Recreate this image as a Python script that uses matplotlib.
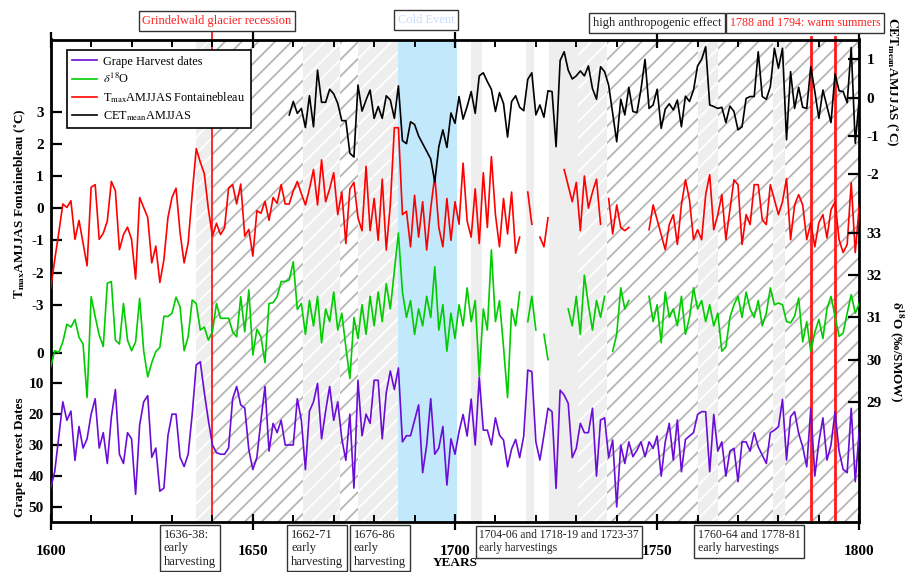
import numpy as np
import matplotlib
matplotlib.use("Agg")
import matplotlib.pyplot as plt
from matplotlib.lines import Line2D

plt.rcParams['font.family'] = ['Liberation Serif', 'DejaVu Serif']
plt.rcParams['mathtext.fontset'] = 'stix'
plt.rcParams['hatch.linewidth'] = 1.3
plt.rcParams['axes.unicode_minus'] = False

nan = np.nan
years = np.arange(1600, 1801)

# Grape harvest dates (days after 1 Sept), 1600-1800
grape = [44, 38.6, 27.3, 16, 22, 19, 35, 24, 31, 28,
         20, 15, 31, 26, 36, 21, 12, 33, 36, 26,
         28, 46, 23.5, 16, 14, 34, 31, 45, 44, 27,
         20, 20, 34, 37, 33, 20, 4, 3, 13, 22,
         30, 32.5, 33, 33, 31, 15, 11, 17, 18, 31.5,
         38, 34, 22, 11, 32, 23, 26, 22, 30, 30,
         30, 15, 22, 38, 19, 16, 10, 28, 19, 11,
         22, 16, 28, 35, 20, 44, 9, 27, 20, 23,
         9, 9, 28, 13, 6, 12, 5, 29, 27, 27,
         22, 17, 39, 30, 15, 33, 31, 24, 43, 28,
         33, 25.7, 20.1, 27.1, 15.1, 30, 8.1, 25.2, 25.2, 30,
         21.2, 26.8, 28.4, 37.1, 31.3, 28.2, 34.1, 27.1, 5.7, 6.2,
         29, 34.9, 26.8, 18.1, 19.2, 44.1, 12.2, 13.8, 16.5, 34.1,
         31.1, 23, 26, 26, 18.1, 40.1, 21.9, 21.2, 34.1, 28.4,
         50.1, 30, 36, 29, 33.8, 31.7, 29, 33.8, 29, 31.1,
         27.1, 40.1, 29, 23, 34.9, 21.9, 38.7, 28.2, 27.1, 26,
         20.1, 19.2, 19.2, 38.7, 20.1, 32, 29, 40.1, 32, 31.1,
         41.9, 29, 29, 32, 26, 30.6, 33.3, 36, 26, 25.2,
         24.1, 15.2, 34.9, 20.8, 19.2, 26.2, 30.6, 37.1, 18.1, 40.1,
         29, 21.2, 34.9, 30, 19.2, 32, 37.9, 39, 18.1, 41.9,
         25]

# Tmax AMJJAS Fontainebleau anomaly (deg C), 1600-1800
tmax = [-2.49, -1.6, -0.76, 0.13, 0.02, 0.23, -0.97, -0.38, -1.08, -1.79,
        0.65, 0.73, -0.97, -0.78, -0.40, 0.83, 0.54, -1.29, -0.82, -0.59,
        -0.97, -2.2, 0.33, 0.02, -0.29, -1.70, -1.18, -2.31, -1.60, -0.29,
        0.33, 0.62, -0.76, -1.70, -1.08, 0.44, 1.85, 1.43, 1.07, -0.03,
        -0.87, -0.47, -0.82, -0.61, 0.62, 0.73, 0.13, 0.75, -0.87, -0.66,
        -1.49, -0.08, -0.16, 0.21, -0.38, 0.33, 0.15, 0.73, 0.13, 0.13,
        0.54, 0.83, 0.45, 0.1, 0.6, 1.2, 0.1, 1.5, 0.2, 0.6,
        1.1, -0.2, 0.5, -1.1, 0.6, 0.8, -0.3, -0.7, 1.3, -0.7,
        0.3, -1.0, 0.9, -1.3, 0.1, 2.5, 2.5, -0.2, -0.1, -1.2,
        0.4, -0.9, 0.2, -1.3, 0.0, 1.0, -0.6, -1.2, 0.3, -1.0,
        0.2, -0.5, 1.4, -0.4, -0.9, 0.6, -1.1, 1.1, -0.6, 1.6,
        -0.2, -1.2, 0.3, -0.8, 0.5, -1.4, -0.9, nan, 0.5, -0.5,
        nan, -0.9, -1.2, -0.3, nan, nan, nan, 1.2, 0.7, 0.2,
        0.8, -0.7, 1.0, 0.0, 0.5, 0.9, -0.5, nan, 0.3, -0.8,
        0.1, -0.6, -0.7, -0.6, nan, nan, nan, nan, -0.67, 0.1,
        -0.36, -0.82, -1.29, -0.51, -0.2, -1.13, 0.1, 0.88, 0.26, -0.98,
        -0.67, -0.98, 0.42, 1.04, -0.67, -0.2, 0.42, -0.98, -0.05, 0.88,
        0.73, -1.13, -0.2, -0.51, 0.73, 0.73, -0.36, -0.51, 0.73, 0.26,
        -0.2, 0.2, 0.92, -0.98, 0.1, 0.42, 0.1, -0.98, -0.45, -1.2,
        -0.45, -0.2, -0.92, -0.05, 0.2, -0.98, -1.38, -1.13, 0.79, -1.38,
        0.1]

# delta 18O (permil / SMOW), 1600-1800
d18o = [29.83, 30.21, 30.17, 30.42, 30.84, 30.77, 30.95, 30.53, 30.37, 29.1,
        31.49, 31.02, 30.58, 30.31, 31.81, 31.85, 30.46, 30.37, 31.33, 30.46,
        30.21, 30.42, 31.45, 30.21, 29.59, 29.93, 30.19, 30.29, 31.03, 31.02,
        31.10, 31.48, 31.25, 30.21, 30.54, 31.41, 31.33, 30.70, 30.77, 30.46,
        30.66, 31.33, 30.98, 30.98, 30.98, 30.66, 30.54, 31.49, 30.66, 31.65,
        30.11, 30.72, 30.54, 29.93, 31.33, 31.35, 31.49, 31.85, 31.85, 31.89,
        32.32, 31.19, 31.33, 30.6, 31.4, 30.8, 31.5, 30.4, 31.2, 30.9,
        31.6, 30.7, 31.1, 30.3, 29.55, 31.0, 30.5, 31.3, 30.6, 31.5,
        30.8, 31.6, 30.9, 31.8, 31.2, 32.1, 33.0, 31.6, 31.0, 31.4,
        30.6, 31.2, 30.8, 31.5, 31.0, 32.2, 30.7, 31.3, 30.2, 31.1,
        30.5, 31.3, 30.8, 31.7, 30.9, 31.4, 29.6, 31.2, 30.7, 32.6,
        30.9, 31.4, 30.3, 29.1, 31.2, 30.8, 31.6, nan, 30.9, 31.5,
        30.7, nan, 30.6, 30.0, nan, nan, nan, nan, 31.2, 30.8,
        31.5, 30.6, 32.0, 31.3, 30.7, 31.4, 31.0, 31.5, nan, 30.2,
        30.6, 31.7, 31.2, 31.4, nan, nan, nan, nan, 31.5, 30.9,
        31.3, 30.4, 31.6, 31.0, 31.2, 30.8, 31.5, 30.6, 31.0, 31.7,
        31.2, 31.4, 30.9, 31.3, 30.8, 31.1, 30.2, 30.3, 31.0, 31.3,
        31.5, 31.0, 31.6, 31.2, 31.0, 31.4, 30.8, 31.1, 31.7, 31.3,
        31.34, 31.3, 30.9, 30.87, 31.03, 31.46, 30.42, 30.9, 30.19, 30.65,
        30.95, 30.5, 31.2, 31.5, 31.03, 30.55, 30.63, 31.1, 31.54, 31.1,
        31.34]

# CET mean AMJJAS anomaly (deg C), 1659-1800
cet_years = np.arange(1659, 1801)
cet = [-0.45,
       -0.10, -0.41, -0.28, -0.78, 0.05, -0.76, 0.72, -0.12, -0.12, 0.22,
       0.10, -0.15, -0.6, -0.6, -1.45, -1.55, 0.33, -0.35, -0.06, 0.2,
       -0.54, -0.23, -0.54, 0.05, -0.06, -0.54, 0.31, -1.12, -1.2, -0.63,
       -0.7, -1.0, -1.2, -1.4, -1.6, -2.2, -1.28, -0.84, -1.3, -0.4,
       -0.67, 0.03, -0.56, -0.23, 0.16, -0.41, 0.57, 0.65, 0.42, 0.22,
       -0.36, 0.13, -0.15, -1.03, -0.10, 0.05, -0.25, -0.34, 0.48, 0.65,
       -0.45, -0.19, -0.51, 0.18, 0.16, -1.28, 0.97, 1.20, 0.72, 0.49,
       0.57, 0.70, 0.57, 0.83, 0.24, -0.04, 0.81, 0.68, 0.33, -0.41,
       -1.15, -0.04, -0.45, 0.27, -0.36, -0.39, 0.22, 1.00, -0.28, -0.19,
       0.22, -0.80, -0.30, -0.16, -0.32, -0.06, -0.76, 0.04, -0.10, 0.20,
       0.83, 1.00, 1.33, -0.19, -0.23, -0.28, -0.25, -0.65, -0.22, -0.36,
       -0.84, -0.76, -0.02, 0.03, 0.03, 1.20, 0.03, -0.04, 0.29, 1.29,
       0.77, 1.29, -1.10, 0.68, -0.28, 0.27, -0.25, -0.28, 0.81, 0.16,
       -0.54, 0.20, -0.23, -0.65, 0.62, 0.18, 0.16, -0.13, 1.31, -1.19,
       0.0]

# shaded periods: (start, end, style)
bands = [(1636, 1640, 'gh'), (1640, 1662.4, 'wh'), (1662.4, 1671.6, 'gh'),
         (1671.6, 1676, 'wh'), (1676, 1686, 'gh'), (1686, 1700.5, 'blue'),
         (1704, 1706.6, 'g'), (1717.6, 1719.5, 'g'), (1723.2, 1730.4, 'g'),
         (1730.4, 1737.6, 'gh'), (1737.6, 1760, 'wh'), (1760, 1765, 'gh'),
         (1765, 1778.6, 'wh'), (1778.6, 1781.6, 'gh'), (1781.6, 1800, 'wh')]
red_marks = [1640, 1788, 1794]

W, H = 909, 572
fig = plt.figure(figsize=(W / 100, H / 100), dpi=100)
L, R, T, B = 50.7, 859.3, 39.5, 522.3
rect = [L / W, 1 - B / H, (R - L) / W, (B - T) / H]

ax = fig.add_axes(rect)
ax.set_xlim(1600, 1800)

GRAY = '#eeeeee'
for s, e, st in bands:
    if st == 'gh':
        ax.axvspan(s, e, facecolor=GRAY, edgecolor='white', hatch='//', lw=0, zorder=0)
    elif st == 'wh':
        ax.axvspan(s, e, facecolor='white', edgecolor='#b5b5b5', hatch='//', lw=0, zorder=0)
    elif st == 'g':
        ax.axvspan(s, e, facecolor=GRAY, edgecolor='none', lw=0, zorder=0)
    else:
        ax.axvspan(s, e, facecolor='#c2e9fb', edgecolor='none', lw=0, zorder=0)
for i, yr in enumerate(red_marks):
    ax.axvline(yr, ymax=1.015 if i == 0 else 1.006, clip_on=False,
               color='#ff1a1a', lw=1.3 if i == 0 else 2.0, zorder=1)

def mk(right=False):
    a = fig.add_axes(rect, sharex=ax)
    a.patch.set_visible(False)
    for sp in a.spines.values():
        sp.set_visible(False)
    a.xaxis.set_visible(False)
    if right:
        a.yaxis.tick_right()
    return a

ax_t = mk()
ax_o = mk(True)
ax_c = mk(True)

# scales
ax.set_ylim(55.1, -101.6)
ax_t.set_ylim(-9.76, 5.24)
ax_c.set_ylim(-11.09, 1.52)
ax_o.set_ylim(26.145, 37.585)

lw = 1.2
ax.plot(years, grape, color='#6a0dd6', lw=lw, zorder=3)
ax_o.plot(years, d18o, color='#00cc00', lw=lw)
ax_t.plot(years, tmax, color='#ff0000', lw=lw)
ax_c.plot(cet_years, cet, color='black', lw=lw)

ax.set_yticks([0, 10, 20, 30, 40, 50])
ax_t.set_yticks([3, 2, 1, 0, -1, -2, -3])
ax_c.set_yticks([1, 0, -1, -2])
ax_o.set_yticks([33, 32, 31, 30, 29])
for a in (ax, ax_t, ax_c, ax_o):
    a.tick_params(axis='y', direction='in', length=8, width=1.6, pad=5, labelsize=11)
    for lab in a.get_yticklabels():
        lab.set_fontweight('bold')

ax.set_xticks([1600, 1650, 1700, 1750, 1800])
ax.set_xticks(np.arange(1600, 1801, 10), minor=True)
ax.tick_params(axis='x', which='major', direction='inout', length=12, width=1.6,
               top=True, pad=10, labelsize=11)
ax.tick_params(axis='x', which='minor', direction='in', length=5, width=1.4, top=True)
for lab in ax.get_xticklabels():
    lab.set_fontweight('bold')
for sp in ax.spines.values():
    sp.set_linewidth(2)

# axis titles
fig.text(20 / W, 1 - 204 / H, r"$\mathbf{T_{max}}$AMJJAS Fontainebleau ($\mathbf{^{\circ}}$C)",
         rotation=90, ha='center', va='center', fontsize=9.5, fontweight='bold')
fig.text(20 / W, 1 - 457 / H, "Grape Harvest Dates", rotation=90, ha='center',
         va='center', fontsize=9.5, fontweight='bold')
fig.text(892 / W, 1 - 82 / H, r"$\mathbf{CET_{mean}}$AMJJAS ($\mathbf{^{\circ}}$C)",
         rotation=-90, ha='center', va='center', fontsize=9.5, fontweight='bold')
fig.text(897 / W, 1 - 352 / H, r"$\mathbf{\delta^{18}}$O (‰/SMOW)",
         rotation=-90, ha='center', va='center', fontsize=9.5, fontweight='bold')
fig.text(455 / W, 1 - 563 / H, "YEARS", ha='center', va='center', fontsize=9.5,
         fontweight='bold')

# legend
handles = [Line2D([], [], color='#6a0dd6', lw=1.2), Line2D([], [], color='#00cc00', lw=1.2),
           Line2D([], [], color='#ff0000', lw=1.2), Line2D([], [], color='black', lw=1.2)]
labels = ["Grape Harvest dates", r"$\delta^{18}$O", r"T$_{\rm max}$AMJJAS Fontainebleau",
          r"CET$_{\rm mean}$AMJJAS"]
leg = ax_c.legend(handles, labels, loc='upper left', bbox_to_anchor=(0.02, 0.978),
                  borderaxespad=0, fontsize=8.8, fancybox=False, framealpha=1,
                  edgecolor='black', handlelength=2.0, handletextpad=0.5,
                  labelspacing=0.35, borderpad=0.45)
leg.get_frame().set_linewidth(1.2)
leg.set_zorder(10)

# top annotation boxes
box = dict(boxstyle='square,pad=0.3', fc='white', ec='#333333', lw=1)
fig.text(217 / W, 1 - 21 / H, "Grindelwald glacier recession", color='#ff2020',
         ha='center', va='center', fontsize=9, bbox=box)
fig.text(426 / W, 1 - 20 / H, "Cold Event", color='#c8dcff',
         ha='center', va='center', fontsize=9, bbox=box)
fig.text(657 / W, 1 - 23 / H, "high anthropogenic effect", color='#222222',
         ha='center', va='center', fontsize=9, bbox=box)
fig.text(805 / W, 1 - 23 / H, "1788 and 1794: warm summers", color='#ff2020',
         ha='center', va='center', fontsize=8.6, bbox=box)

# bottom annotation boxes
bbox2 = dict(boxstyle='square,pad=0.3', fc='white', ec='#333333', lw=1)
for x, txt, fs in [(164, "1636-38:\nearly\nharvesting", 9), (291, "1662-71\nearly\nharvesting", 9),
                   (354, "1676-86\nearly\nharvesting", 9),
                   (479, "1704-06 and 1718-19 and 1723-37\nearly harvestings", 8.3),
                   (698, "1760-64 and 1778-81\nearly harvestings", 8.6)]:
    fig.text(x / W, 1 - 529 / H, txt, ha='left', va='top', fontsize=fs,
             linespacing=1.15, color='#222222', bbox=bbox2)

fig.savefig("out.png", dpi=100)
